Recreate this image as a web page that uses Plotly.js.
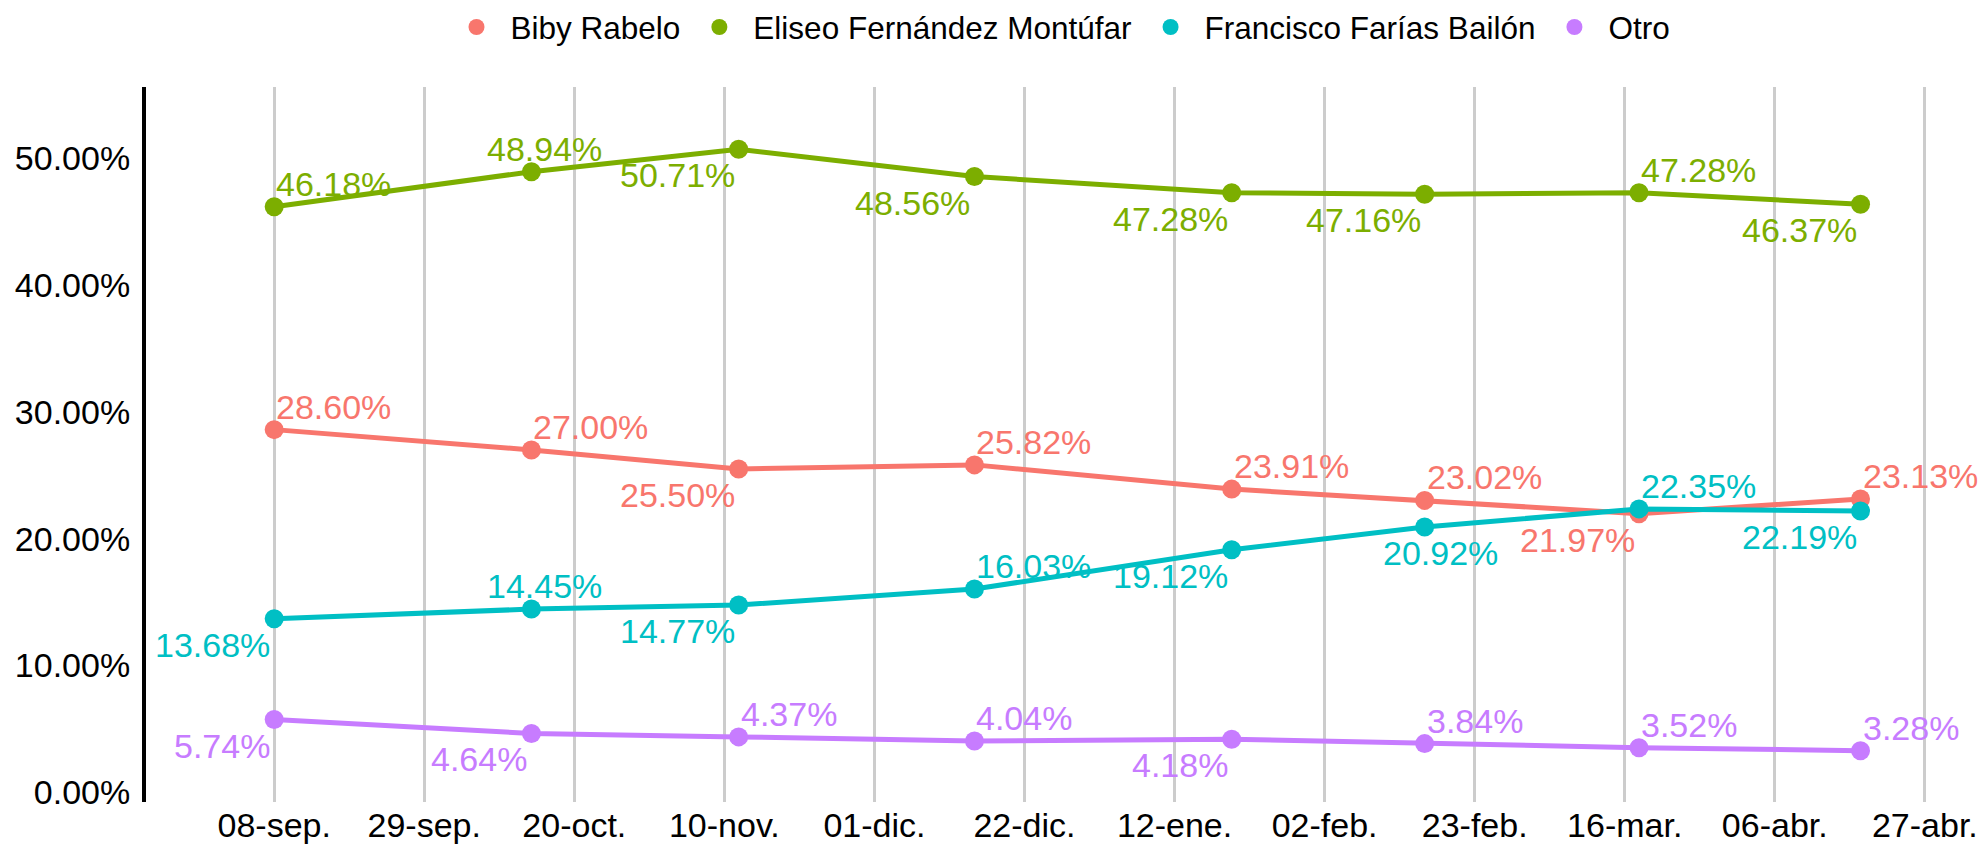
<!DOCTYPE html>
<html>
<head>
<meta charset="utf-8">
<script src="https://cdn.plot.ly/plotly-3.0.1.min.js"></script>
<style>html,body{margin:0;padding:0;background:#fff;}#chart{width:1982px;height:846px;}</style>
</head>
<body>
<div id="chart"></div>
<script>
// ---- data ----
var dates = ['2017-09-08','2017-10-14','2017-11-12','2017-12-15','2018-01-20','2018-02-16','2018-03-18','2018-04-18'];
var seriesNames = ['Biby Rabelo','Eliseo Fernández Montúfar','Francisco Farías Bailón','Otro'];
var bibyRabelo = [28.60, 27.00, 25.50, 25.82, 23.91, 23.02, 21.97, 23.13];
var eliseoFernandez = [46.18, 48.94, 50.71, 48.56, 47.28, 47.16, 47.28, 46.37];
var franciscoFarias = [13.68, 14.45, 14.77, 16.03, 19.12, 20.92, 22.35, 22.19];
var otro = [5.74, 4.64, 4.37, 4.04, 4.18, 3.84, 3.52, 3.28];
var tickDates = ['2017-09-08','2017-09-29','2017-10-20','2017-11-10','2017-12-01','2017-12-22','2018-01-12','2018-02-02','2018-02-23','2018-03-16','2018-04-06','2018-04-27'];
var tickLabels = ['08-sep.','29-sep.','20-oct.','10-nov.','01-dic.','22-dic.','12-ene.','02-feb.','23-feb.','16-mar.','06-abr.','27-abr.'];
var yTicks = [0, 10, 20, 30, 40, 50];
var yTickLabels = ['0.00%','10.00%','20.00%','30.00%','40.00%','50.00%'];

// ---- styles ----
var colors = ['#F8766D', '#7CAE00', '#00BFC4', '#C77CFF'];
var labelPos = [
  ['tr','tr','bl','tr','tr','tr','bl','tr'],
  ['tr','tc','bl','bl','bl','bl','tr','bl'],
  ['bl','tc','bl','tr','bl','bc','tr','bl'],
  ['bl','bl','tr','tr','bl','tr','tr','tr']
];
var posStyle = {
  tr: {xanchor:'left',   yanchor:'bottom', xshift:0,  yshift:2},
  bl: {xanchor:'right',  yanchor:'top',    xshift:-2, yshift:-5},
  tc: {xanchor:'center', yanchor:'bottom', xshift:13, yshift:2},
  bc: {xanchor:'center', yanchor:'top',    xshift:16, yshift:-5}
};
var FONT = 'Arial, "Liberation Sans", Helvetica, sans-serif';

var allSeries = [bibyRabelo, eliseoFernandez, franciscoFarias, otro];
var traces = [];
var annotations = [];
allSeries.forEach(function(vals, i) {
  traces.push({
    x: dates, y: vals, type: 'scatter', mode: 'lines',
    line: {color: colors[i], width: 5},
    showlegend: false, legendgroup: 'g' + i, hoverinfo: 'skip'
  });
  traces.push({
    x: dates, y: vals, type: 'scatter', mode: 'markers', name: seriesNames[i],
    marker: {color: colors[i], size: 19},
    legendgroup: 'g' + i
  });
  vals.forEach(function(v, j) {
    var p = posStyle[labelPos[i][j]];
    annotations.push({
      x: dates[j], y: v, xref: 'x', yref: 'y',
      text: v.toFixed(2) + '%', showarrow: false,
      xanchor: p.xanchor, yanchor: p.yanchor, xshift: p.xshift, yshift: p.yshift,
      font: {family: FONT, size: 34, color: colors[i]}
    });
  });
});

var layout = {
  width: 1982, height: 846,
  margin: {l: 146, r: 10, t: 87, b: 44, pad: 0},
  paper_bgcolor: '#fff', plot_bgcolor: '#fff',
  font: {family: FONT, size: 34, color: '#000'},
  showlegend: true,
  legend: {
    orientation: 'h', x: 0.5, xanchor: 'center',
    yref: 'container', y: 1, yanchor: 'top',
    font: {family: FONT, size: 31.5, color: '#000'},
    itemwidth: 58, traceorder: 'normal'
  },
  xaxis: {
    type: 'date',
    range: ['2017-08-21 01:26', '2018-05-03 14:24'],
    tickmode: 'array', tickvals: tickDates, ticktext: tickLabels,
    showgrid: true, gridcolor: '#CCCCCC', gridwidth: 3,
    showline: false, zeroline: false, ticks: '',
    tickfont: {family: FONT, size: 34, color: '#000'}
  },
  yaxis: {
    range: [-0.765, 55.62],
    tickmode: 'array', tickvals: yTicks, ticktext: yTickLabels,
    showgrid: false, zeroline: false,
    showline: true, linecolor: '#000', linewidth: 4,
    ticks: '', ticklabelstandoff: 5,
    tickfont: {family: FONT, size: 34, color: '#000'}
  },
  annotations: annotations
};

Plotly.newPlot('chart', traces, layout, {displayModeBar: false, staticPlot: true});
</script>
</body>
</html>
